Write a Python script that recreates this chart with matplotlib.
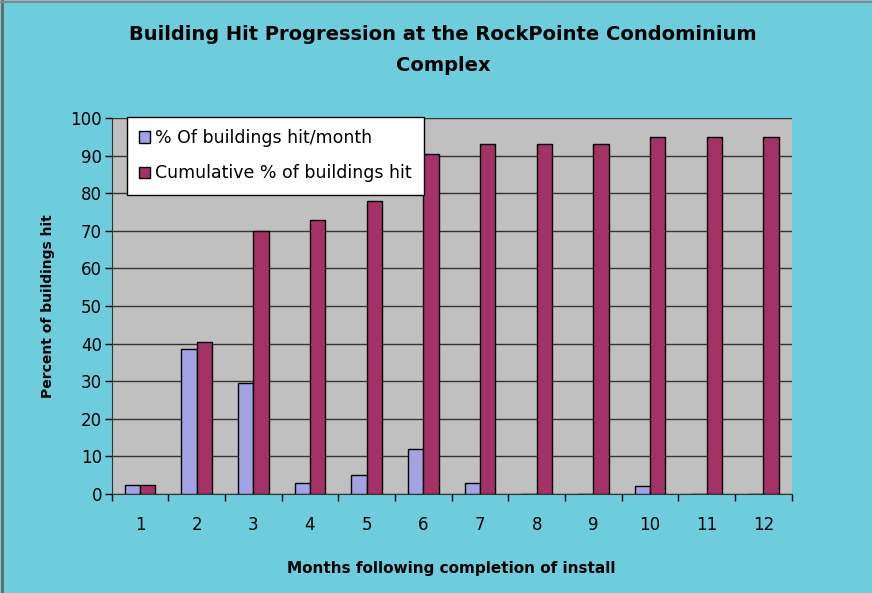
import numpy as np
import matplotlib.pyplot as plt
from matplotlib.lines import Line2D

plt.rcParams['font.family'] = ['DejaVu Sans']

months = ['1', '2', '3', '4', '5', '6', '7', '8', '9', '10', '11', '12']
hit_per_month = [2.5, 38.5, 29.5, 3, 5, 12, 3, 0, 0, 2, 0, 0]
cumulative = [2.5, 40.5, 70, 73, 78, 90.5, 93, 93, 93, 95, 95, 95]

fig = plt.figure(figsize=(8.72, 5.93), dpi=100)
fig.patch.set_facecolor('#6ecddc')

# thin gray frame on top and left like the screenshot
fig.add_artist(Line2D([0.002, 0.002], [0, 0.998], transform=fig.transFigure, color='#666666', lw=2))
fig.add_artist(Line2D([0, 1], [0.997, 0.997], transform=fig.transFigure, color='#888888', lw=1.5))

ax = fig.add_axes([0.128, 0.167, 0.78, 0.634])
ax.set_facecolor('#c0c0c0')

x = np.arange(len(months))
w = 0.27
ax.bar(x - w / 2, hit_per_month, w, color='#a3a3e3', edgecolor='black', linewidth=1,
       label='% Of buildings hit/month', zorder=3)
ax.bar(x + w / 2, cumulative, w, color='#a33366', edgecolor='black', linewidth=1,
       label='Cumulative % of buildings hit', zorder=3)

ax.set_xlim(-0.5, len(months) - 0.5)
ax.set_ylim(0, 100)
ax.set_yticks(range(0, 101, 10))
ax.set_xticks(x)
ax.set_xticklabels(months, fontsize=12)
ax.tick_params(axis='x', length=0, pad=16)
ax.set_xticks(np.arange(-0.5, len(months), 1), minor=True)
ax.tick_params(axis='x', which='minor', length=5, direction='out', width=1)
ax.tick_params(axis='y', labelsize=12, length=5, direction='out', width=1, pad=2)
ax.yaxis.grid(True, color='#333333', linewidth=1, zorder=0)

for s in ['top', 'right']:
    ax.spines[s].set_visible(False)
ax.spines['left'].set_color('#333333')
ax.spines['bottom'].set_color('#333333')

ax.set_ylabel('Percent of buildings hit', fontsize=10, fontweight='bold', labelpad=11)
ax.set_xlabel('Months following completion of install', fontsize=11, fontweight='bold', labelpad=19)

fig.text(0.508, 0.957, 'Building Hit Progression at the RockPointe Condominium\nComplex',
         ha='center', va='top', fontsize=14, fontweight='bold', linespacing=1.75)

leg = ax.legend(loc='upper left', bbox_to_anchor=(0.022, 1.003), fontsize=12.5, frameon=True,
                fancybox=False, edgecolor='black', framealpha=1, handlelength=0.65,
                handleheight=0.65, handletextpad=0.3, borderpad=0.7, labelspacing=1.0,
                borderaxespad=0)
leg.get_frame().set_linewidth(1)

fig.savefig('out.png', dpi=100, facecolor=fig.get_facecolor())
